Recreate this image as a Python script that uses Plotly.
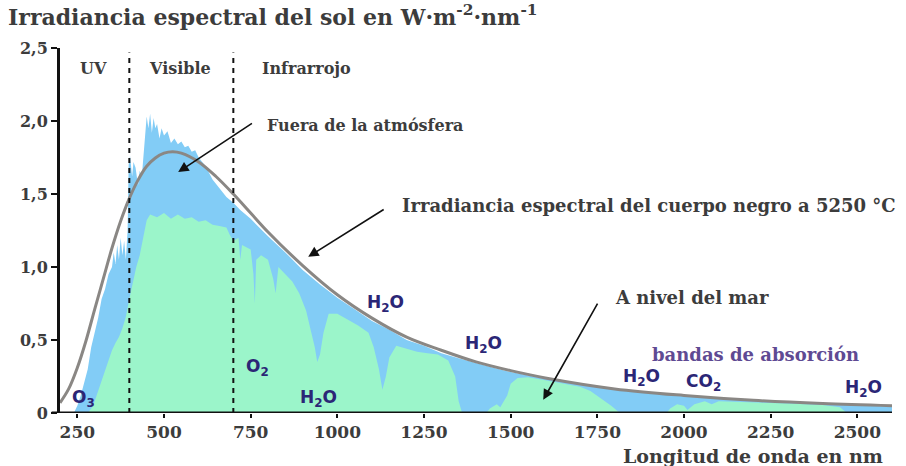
import plotly.graph_objects as go

# ---- data ----
# Extraterrestrial spectrum (Fuera de la atmósfera)
space_nm = [240, 250, 260, 270, 280, 290, 300, 310, 320, 330, 340, 350, 355, 360, 365, 370, 375, 380,
            385, 390, 395, 398, 402, 408, 412, 418, 425, 430, 436, 440, 445, 450, 455, 460, 465, 470,
            475, 480, 487, 493, 500, 510, 520, 530, 540, 550, 560, 570, 580, 590, 600, 620, 640, 660,
            680, 700, 720, 750, 800, 850, 900, 950, 1000, 1050, 1100, 1150, 1200, 1250, 1300, 1350,
            1400, 1450, 1500, 1550, 1600, 1650, 1700, 1750, 1800, 1850, 1900, 1950, 2000, 2100, 2200,
            2300, 2400, 2500, 2600]
space_val = [0.0, 0.05, 0.12, 0.22, 0.30, 0.45, 0.55, 0.65, 0.78, 0.85, 0.95, 1.00, 1.10, 1.02, 1.15,
             1.05, 1.20, 1.08, 1.18, 1.05, 1.25, 1.70, 1.76, 1.62, 1.72, 1.68, 1.56, 1.66, 1.62, 1.75,
             1.90, 2.03, 1.95, 2.05, 1.92, 2.02, 1.95, 1.98, 1.88, 1.95, 1.90, 1.93, 1.85, 1.88, 1.84,
             1.86, 1.82, 1.83, 1.79, 1.80, 1.75, 1.69, 1.60, 1.54, 1.48, 1.44, 1.39, 1.33, 1.21, 1.10,
             0.98, 0.88, 0.79, 0.71, 0.63, 0.57, 0.50, 0.46, 0.41, 0.375, 0.34, 0.31, 0.28, 0.255, 0.235,
             0.215, 0.195, 0.18, 0.16, 0.15, 0.138, 0.127, 0.117, 0.10, 0.086, 0.075, 0.065, 0.055, 0.048]

# Sea-level spectrum (A nivel del mar)
sea_nm = [240, 280, 290, 300, 310, 320, 330, 340, 350, 360, 370, 380, 390, 400, 410, 420, 430, 440,
          450, 460, 480, 500, 520, 540, 560, 580, 600, 620, 640, 660, 680, 690, 700, 715, 720, 725,
          750, 758, 762, 766, 780, 800, 815, 822, 830, 850, 870, 890, 910, 925, 935, 942, 950, 960,
          975, 1000, 1030, 1060, 1090, 1105, 1120, 1130, 1140, 1150, 1170, 1200, 1230, 1260, 1290,
          1320, 1340, 1350, 1360, 1430, 1440, 1460, 1470, 1490, 1500, 1520, 1550, 1600, 1650, 1700,
          1730, 1760, 1790, 1810, 1820, 1950, 1960, 1980, 2000, 2010, 2030, 2060, 2080, 2100, 2200,
          2300, 2400, 2450, 2470, 2600]
sea_val = [0.0, 0.0, 0.03, 0.08, 0.15, 0.22, 0.30, 0.37, 0.43, 0.48, 0.52, 0.58, 0.66, 0.78, 0.90,
           1.00, 1.08, 1.20, 1.32, 1.36, 1.34, 1.37, 1.33, 1.36, 1.33, 1.34, 1.31, 1.32, 1.29, 1.28,
           1.27, 1.22, 1.18, 1.20, 1.05, 1.15, 1.12, 0.95, 0.75, 1.05, 1.08, 1.05, 0.92, 0.82, 1.00,
           0.95, 0.90, 0.82, 0.70, 0.55, 0.45, 0.35, 0.40, 0.55, 0.68, 0.68, 0.64, 0.60, 0.55, 0.45,
           0.30, 0.16, 0.25, 0.38, 0.46, 0.44, 0.42, 0.41, 0.40, 0.36, 0.25, 0.08, 0.0, 0.0, 0.03,
           0.06, 0.04, 0.12, 0.20, 0.24, 0.245, 0.225, 0.205, 0.18, 0.15, 0.10, 0.05, 0.01, 0.0, 0.0,
           0.03, 0.06, 0.05, 0.02, 0.06, 0.08, 0.06, 0.08, 0.075, 0.065, 0.055, 0.04, 0.0, 0.0]

# Black body curve at 5250 °C
bb_nm = [200, 225, 250, 275, 300, 325, 350, 375, 400, 425, 450, 475, 500, 525, 550, 600, 650, 700,
         750, 800, 900, 1000, 1100, 1200, 1300, 1400, 1500, 1600, 1800, 2000, 2200, 2400, 2600]
bb_val = [0.07, 0.165, 0.31, 0.495, 0.71, 0.92, 1.13, 1.315, 1.47, 1.595, 1.69, 1.747, 1.78, 1.79,
          1.78, 1.72, 1.62, 1.50, 1.37, 1.24, 1.01, 0.81, 0.65, 0.52, 0.43, 0.35, 0.29, 0.24, 0.165,
          0.12, 0.087, 0.065, 0.05]

x_ticks = [250, 500, 750, 1000, 1250, 1500, 1750, 2000, 2250, 2500]
y_ticks = [0, 0.5, 1.0, 1.5, 2.0, 2.5]
y_tick_text = ["0", "0,5", "1,0", "1,5", "2,0", "2,5"]

region_bounds = [400, 700]
region_labels = [("UV", 296), ("Visible", 547), ("Infrarrojo", 910)]

gas_labels = [("O<sub>3</sub>", 267, 0.10), ("O<sub>2</sub>", 769, 0.31), ("H<sub>2</sub>O", 945, 0.10),
              ("H<sub>2</sub>O", 1140, 0.75), ("H<sub>2</sub>O", 1421, 0.47),
              ("H<sub>2</sub>O", 1877, 0.24), ("CO<sub>2</sub>", 2056, 0.21),
              ("H<sub>2</sub>O", 2517, 0.17)]

SERIF = "DejaVu Serif"
BLUE = "#82ccf6"
GREEN = "#9bf5ca"
GAS = "#2b2676"
TXT = "#3c3c3c"

fig = go.Figure()
fig.add_trace(go.Scatter(x=space_nm, y=space_val, mode="lines", fill="tozeroy",
                         fillcolor=BLUE, line=dict(width=0, color=BLUE),
                         name="Fuera de la atmósfera", hoverinfo="skip"))
fig.add_trace(go.Scatter(x=sea_nm, y=sea_val, mode="lines", fill="tozeroy",
                         fillcolor=GREEN, line=dict(width=0, color=GREEN),
                         name="A nivel del mar", hoverinfo="skip"))
fig.add_trace(go.Scatter(x=bb_nm, y=bb_val, mode="lines",
                         line=dict(color="#8a8784", width=3, shape="spline"),
                         name="Cuerpo negro", hoverinfo="skip"))

shapes = []
for b in region_bounds:
    shapes.append(dict(type="line", xref="x", yref="y", x0=b, x1=b, y0=0, y1=2.47,
                       line=dict(color="#111", width=2, dash="5px,5px"), layer="above"))
# x-axis baseline extending slightly left of y axis
shapes.append(dict(type="line", xref="paper", yref="y", x0=-0.01, x1=1.0, y0=0, y1=0,
                   line=dict(color="#111", width=3), layer="above"))

annotations = []
for txt, xc in region_labels:
    annotations.append(dict(x=xc, y=2.36, xref="x", yref="y", text="<b>" + txt + "</b>",
                            showarrow=False, font=dict(family=SERIF, size=16, color=TXT)))

for txt, xc, yc in gas_labels:
    annotations.append(dict(x=xc, y=yc, xref="x", yref="y", text="<b>" + txt + "</b>",
                            showarrow=False, font=dict(family="DejaVu Sans", size=17, color=GAS)))

annotations.append(dict(x=792, y=1.97, xref="x", yref="y", text="<b>Fuera de la atmósfera</b>",
                        showarrow=False, xanchor="left",
                        font=dict(family=SERIF, size=16, color=TXT)))
annotations.append(dict(x=1182, y=1.42, xref="x", yref="y",
                        text="<b>Irradiancia espectral del cuerpo negro a 5250 °C</b>",
                        showarrow=False, xanchor="left",
                        font=dict(family=SERIF, size=18, color=TXT)))
annotations.append(dict(x=1796, y=0.79, xref="x", yref="y", text="<b>A nivel del mar</b>",
                        showarrow=False, xanchor="left",
                        font=dict(family=SERIF, size=18, color=TXT)))
annotations.append(dict(x=1903, y=0.40, xref="x", yref="y", text="<b>bandas de absorción</b>",
                        showarrow=False, xanchor="left",
                        font=dict(family=SERIF, size=18, color="#5f4a93")))

arrows = [(541, 1.65, 758, 1.99), (916, 1.07, 1138, 1.40), (1594, 0.09, 1753, 0.76)]
for hx, hy, tx, ty in arrows:
    annotations.append(dict(x=hx, y=hy, ax=tx, ay=ty, xref="x", yref="y", axref="x", ayref="y",
                            text="", showarrow=True, arrowhead=2, arrowsize=1.3,
                            arrowwidth=1.6, arrowcolor="#111"))

annotations.append(dict(x=0.992, y=-0.118, xref="paper", yref="paper",
                        text="<b>Longitud de onda en nm</b>", showarrow=False,
                        xanchor="right", yanchor="middle",
                        font=dict(family=SERIF, size=19, color=TXT)))

fig.update_layout(
    width=906, height=466, autosize=False,
    margin=dict(l=60, r=14, t=48, b=53),
    plot_bgcolor="white", paper_bgcolor="white",
    showlegend=False,
    title=dict(text="<b>Irradiancia espectral del sol en W·m<sup>-2</sup>·nm<sup>-1</sup></b>",
               x=8 / 906, xanchor="left", xref="container",
               y=1 - 17 / 466, yanchor="middle", yref="container",
               font=dict(family=SERIF, size=22, color=TXT)),
    xaxis=dict(range=[200, 2600], tickvals=x_ticks, ticktext=["<b>%d</b>" % v for v in x_ticks],
               showgrid=False, zeroline=False, showline=False,
               ticks="outside", ticklen=4, tickwidth=2, tickcolor="#111",
               tickfont=dict(family=SERIF, size=17, color=TXT)),
    yaxis=dict(range=[0, 2.5], tickvals=y_ticks, ticktext=["<b>%s</b>" % t for t in y_tick_text],
               showgrid=False, zeroline=False, showline=True, linecolor="#111", linewidth=3,
               ticks="outside", ticklen=6, tickwidth=2, tickcolor="#111",
               tickfont=dict(family=SERIF, size=16, color=TXT)),
    shapes=shapes,
    annotations=annotations,
)

fig.write_html("out.html")
